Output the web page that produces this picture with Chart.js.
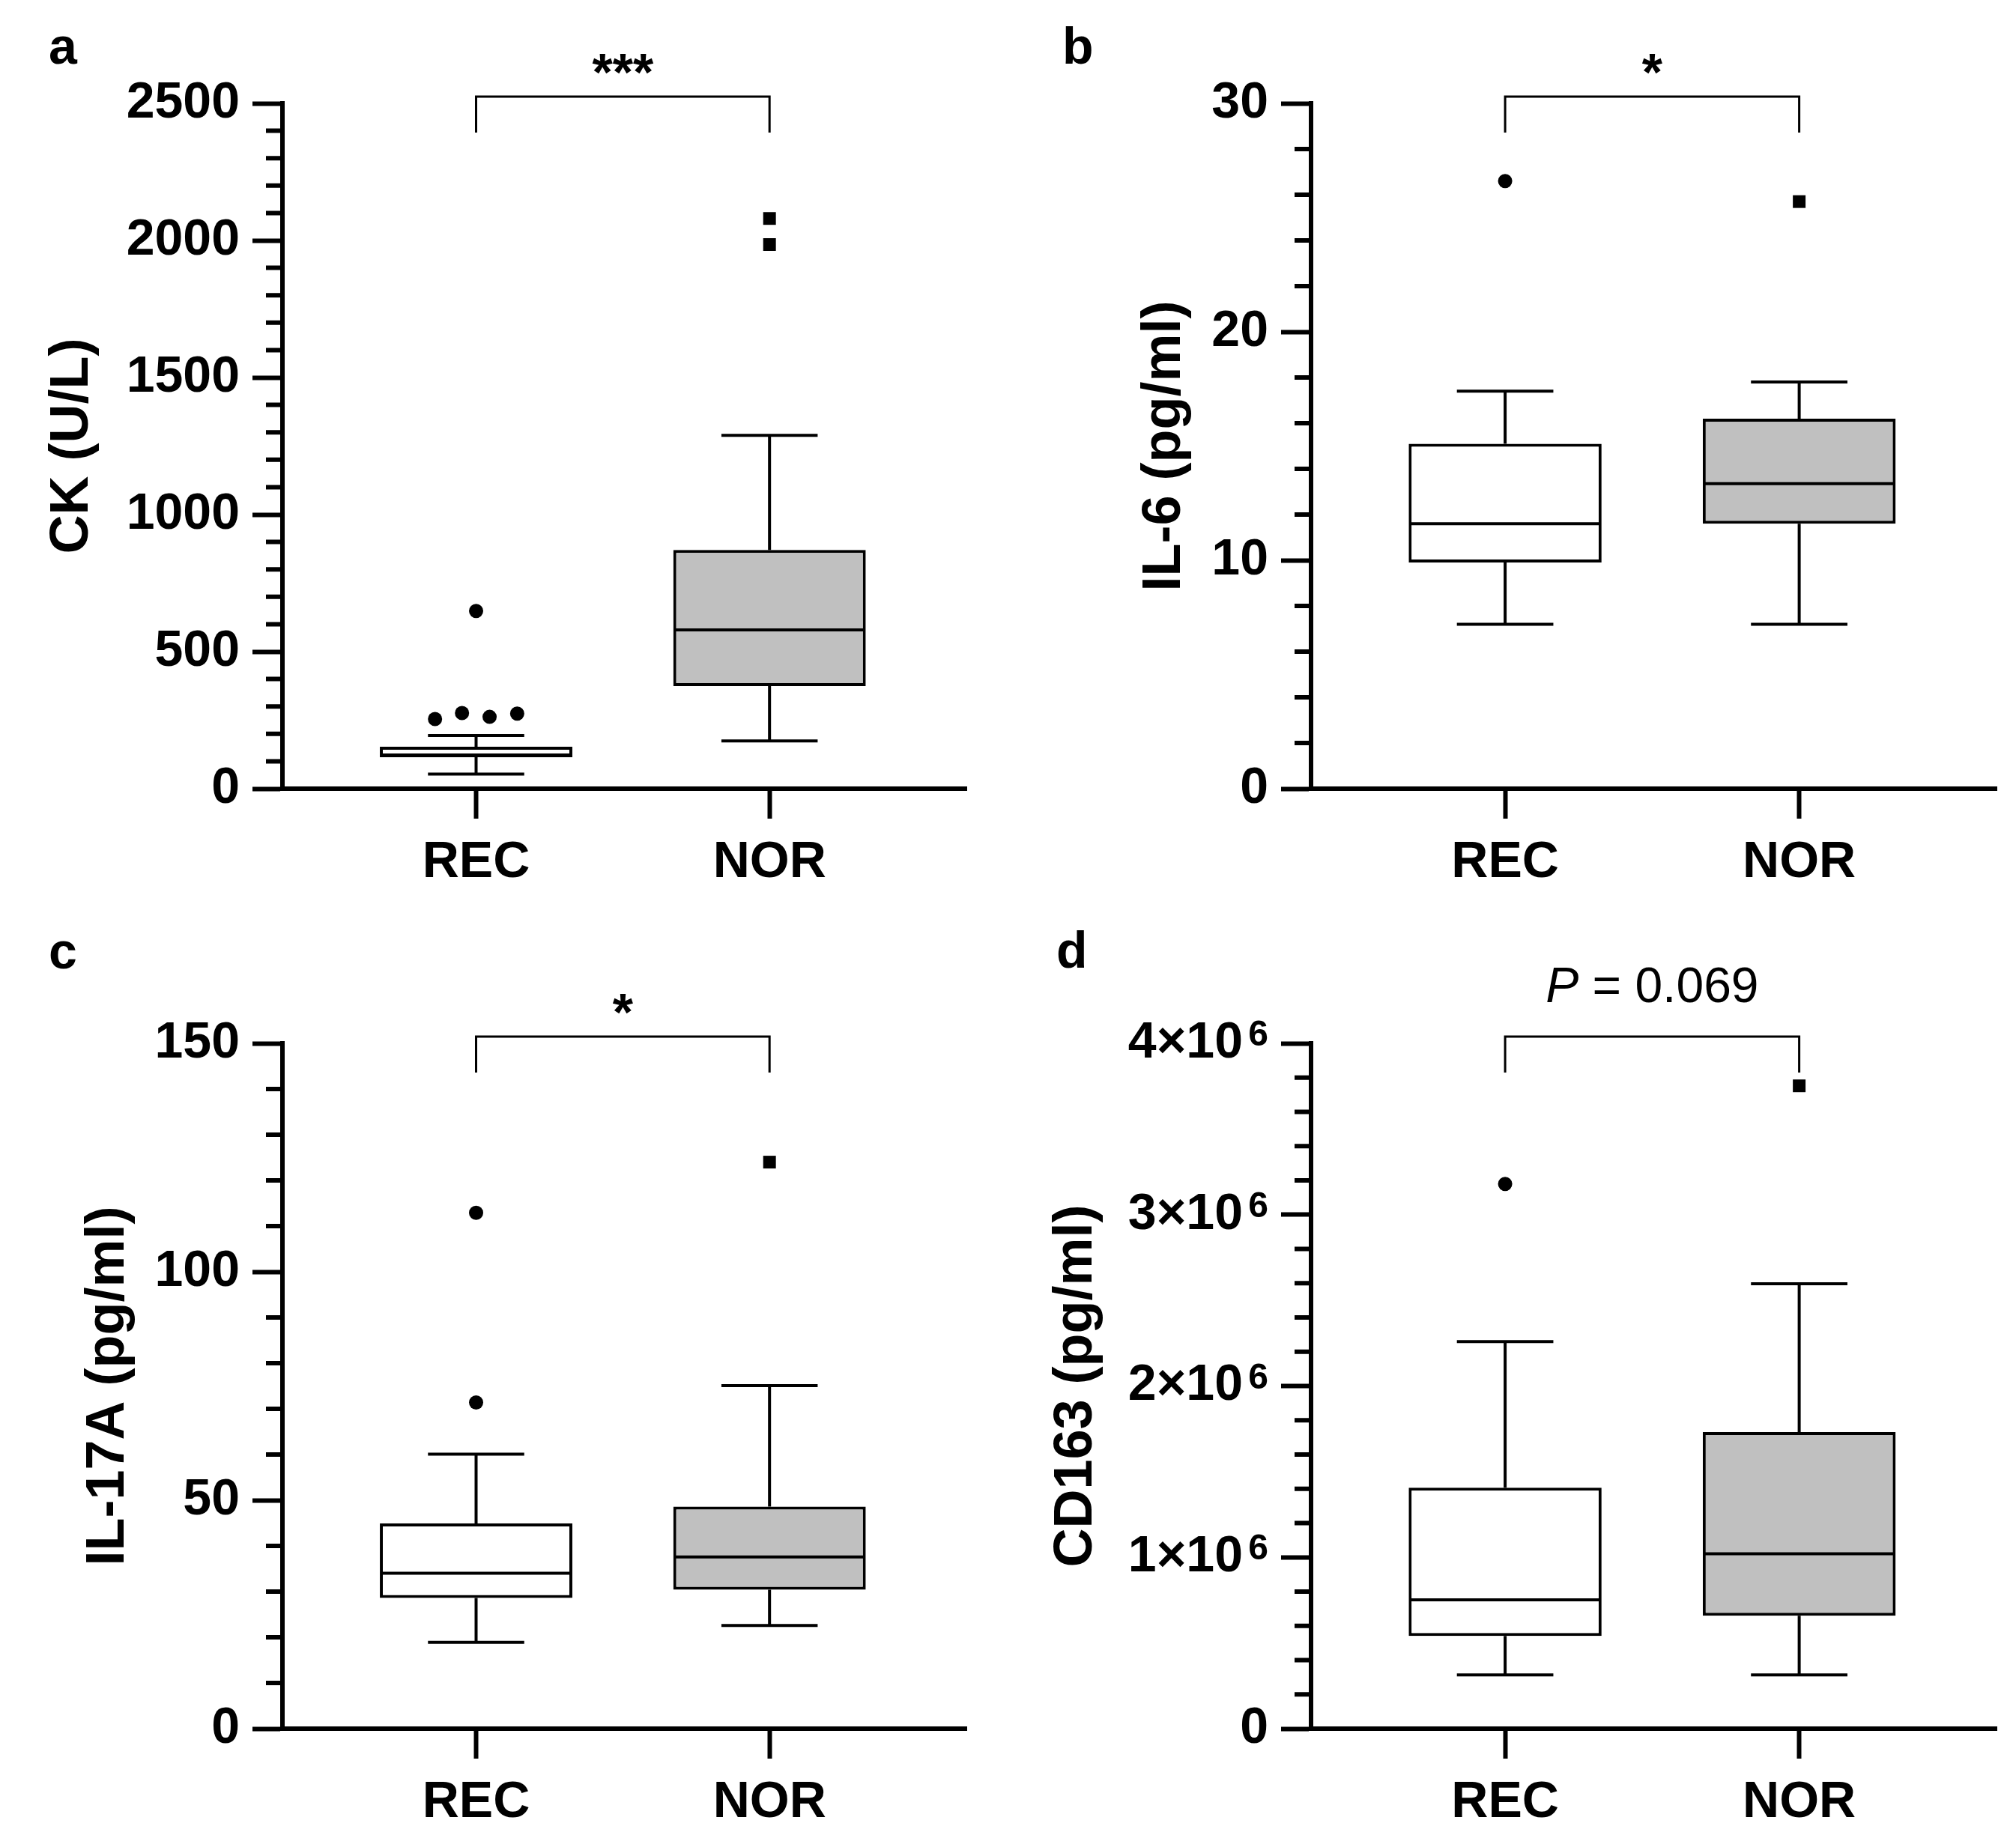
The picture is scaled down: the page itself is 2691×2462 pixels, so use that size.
<!DOCTYPE html>
<html>
<head>
<meta charset="utf-8">
<script src="https://cdn.jsdelivr.net/npm/chart.js@4.4.0/dist/chart.umd.min.js"></script>
<style>
  html, body { margin: 0; padding: 0; background: #fff; }
  #fig { position: relative; width: 2691px; height: 2462px; }
  .panel { position: absolute; }
</style>
</head>
<body>
<div id="fig">
  <div class="panel" style="left:0px;top:0px"><canvas id="chartA" width="1345" height="1231"></canvas></div>
  <div class="panel" style="left:1345px;top:0px"><canvas id="chartB" width="1346" height="1231"></canvas></div>
  <div class="panel" style="left:0px;top:1231px"><canvas id="chartC" width="1345" height="1231"></canvas></div>
  <div class="panel" style="left:1345px;top:1231px"><canvas id="chartD" width="1346" height="1231"></canvas></div>
</div>
<script>
// groups on the x axis
const groups = ['REC', 'NOR'];

// boxes are [lower whisker, Q1, median, Q3, upper whisker]
// a: CK (U/L)
const ckRec = [53, 115, 123, 153, 194];
const ckNor = [174, 374, 579, 871, 1289];
const ckOutRecY = [648, 254, 276, 262, 274];
const ckOutRecX = [1, 0.86, 0.952, 1.046, 1.14];
const ckOutNorY = [2080, 1985];
const ckTicks = [0, 500, 1000, 1500, 2000, 2500];
const ckMinor = 100;

// b: IL-6 (pg/ml)
const il6Rec = [7.2, 9.9, 11.6, 15.1, 17.4];
const il6Nor = [7.2, 11.6, 13.35, 16.2, 17.8];
const il6OutRecY = [26.6];
const il6OutNorY = [25.7];
const il6Ticks = [0, 10, 20, 30];
const il6Minor = 2;

// c: IL-17A (pg/ml)
const il17Rec = [18.9, 28.6, 34.0, 44.9, 60.1];
const il17Nor = [22.6, 30.4, 37.6, 48.6, 75.1];
const il17OutRecY = [112.9, 71.4];
const il17OutNorY = [124.0];
const il17Ticks = [0, 50, 100, 150];
const il17Minor = 10;

// d: CD163 (pg/ml)
const cdRec = [314000, 541000, 752000, 1407000, 2259000];
const cdNor = [314000, 659000, 1021000, 1731000, 2597000];
const cdOutRecY = [3179000];
const cdOutNorY = [3752000];
const cdTicks = [0, 1000000, 2000000, 3000000, 4000000];
const cdMinor = 200000;

const FONT = "'Liberation Sans', Arial, Helvetica, sans-serif";
const X_AXIS_H = 150;
const X_MIN = 0.34, X_MAX = 2.671;
const TICK_LEN = 40, TICK_PAD = 17;

function makePanel(id, cfg) {
    const canvas = document.getElementById(id);
    const W = canvas.width, H = canvas.height;
    const a = cfg.area;

    // whiskers, medians, minor ticks, bracket and labels, all placed with the chart scales
    const extras = {
        id: 'boxExtras',
        afterDatasetsDraw(chart) {
            const ctx = chart.ctx, xs = chart.scales.x, ys = chart.scales.y;
            const bars = chart.getDatasetMeta(0).data;
            ctx.save();
            ctx.strokeStyle = '#000';
            ctx.lineWidth = 4;
            [cfg.rec, cfg.nor].forEach((b, i) => {
                const cx = xs.getPixelForValue(i + 1);
                const half = bars[i].width / 2;
                const cap = half * 0.5;
                const [lo, q1, med, q3, hi] = b.map(v => ys.getPixelForValue(v));
                ctx.beginPath();
                ctx.moveTo(cx - half + 2, med); ctx.lineTo(cx + half - 2, med);
                ctx.moveTo(cx, q3); ctx.lineTo(cx, hi);
                ctx.moveTo(cx - cap, hi); ctx.lineTo(cx + cap, hi);
                ctx.moveTo(cx, q1); ctx.lineTo(cx, lo);
                ctx.moveTo(cx - cap, lo); ctx.lineTo(cx + cap, lo);
                ctx.stroke();
            });
            ctx.restore();
        },
        afterDraw(chart) {
            const ctx = chart.ctx, xs = chart.scales.x, ys = chart.scales.y;
            const axisX = chart.chartArea.left;
            const top = cfg.ticks[cfg.ticks.length - 1];
            const majorStep = cfg.ticks[1];
            ctx.save();
            // minor ticks
            ctx.strokeStyle = '#000';
            ctx.lineWidth = 6;
            ctx.beginPath();
            const n = Math.round(top / cfg.minor);
            for (let k = 1; k < n; k++) {
                const v = k * cfg.minor;
                if (Math.abs(v / majorStep - Math.round(v / majorStep)) < 1e-6) continue;
                const py = ys.getPixelForValue(v);
                ctx.moveTo(axisX - 22, py);
                ctx.lineTo(axisX, py);
            }
            ctx.stroke();

            ctx.fillStyle = '#000';
            // exponent of the tick labels (d)
            if (cfg.sup) {
                ctx.font = 'bold 48px ' + FONT;
                ctx.textAlign = 'right';
                ctx.textBaseline = 'alphabetic';
                cfg.ticks.forEach(v => {
                    if (v === 0) return;
                    ctx.fillText(cfg.sup, axisX - TICK_LEN - TICK_PAD, ys.getPixelForValue(v) + 3);
                });
            }

            // significance bracket
            const x1 = xs.getPixelForValue(1), x2 = xs.getPixelForValue(2);
            const yT = ys.top - 9, yB = ys.top + 39;
            ctx.lineWidth = 3;
            ctx.beginPath();
            ctx.moveTo(x1, yB); ctx.lineTo(x1, yT); ctx.lineTo(x2, yT); ctx.lineTo(x2, yB);
            ctx.stroke();

            ctx.textBaseline = 'alphabetic';
            const cx = (x1 + x2) / 2;
            if (cfg.pText) {
                const pFont = 'italic 66px ' + FONT;
                const rFont = '66px ' + FONT;
                ctx.font = pFont;
                const wP = ctx.measureText('P').width;
                ctx.font = rFont;
                const wR = ctx.measureText(cfg.pText).width;
                const start = cx - (wP + wR) / 2;
                ctx.textAlign = 'left';
                ctx.font = pFont;
                ctx.fillText('P', start, ys.top - 55);
                ctx.font = rFont;
                ctx.fillText(cfg.pText, start + wP, ys.top - 55);
            } else {
                ctx.font = 'bold 70px ' + FONT;
                ctx.textAlign = 'center';
                ctx.fillText(cfg.sig, cx, ys.top - 17);
            }

            // panel letter
            ctx.font = 'bold 68px ' + FONT;
            ctx.textAlign = 'left';
            ctx.fillText(cfg.letter, cfg.letterPos[0], cfg.letterPos[1]);
            ctx.restore();
        }
    };

    const outRec = cfg.outRecY.map((v, i) => ({x: cfg.outRecX ? cfg.outRecX[i] : 1, y: v}));
    const outNor = cfg.outNorY.map(v => ({x: 2, y: v}));

    return new Chart(canvas.getContext('2d'), {
        type: 'bar',
        data: {
            datasets: [{
                label: 'box',
                data: groups.map((g, i) => {
                    const b = i === 0 ? cfg.rec : cfg.nor;
                    return {x: i + 1, y: [b[1], b[3]]};
                }),
                backgroundColor: ['#ffffff', '#c0c0c0'],
                borderColor: '#000',
                borderWidth: 4,
                borderSkipped: false,
                barPercentage: 0.656,
                categoryPercentage: 1
            }, {
                type: 'scatter',
                label: 'REC outliers',
                data: outRec,
                pointStyle: 'circle',
                pointRadius: 9.5,
                backgroundColor: '#000',
                borderWidth: 0
            }, {
                type: 'scatter',
                label: 'NOR outliers',
                data: outNor,
                pointStyle: 'rect',
                pointRadius: 12,
                backgroundColor: '#000',
                borderWidth: 0
            }]
        },
        options: {
            responsive: false,
            devicePixelRatio: 1,
            animation: false,
            events: [],
            layout: {
                padding: {left: 0, top: a.top, right: W - a.right, bottom: H - a.bottom - X_AXIS_H}
            },
            plugins: {
                legend: {display: false},
                tooltip: {enabled: false}
            },
            scales: {
                x: {
                    type: 'linear',
                    min: X_MIN,
                    max: X_MAX,
                    offset: false,
                    afterBuildTicks: s => { s.ticks = groups.map((g, i) => ({value: i + 1})); },
                    afterFit: s => { s.height = X_AXIS_H; },
                    border: {color: '#000', width: 6},
                    grid: {offset: false, drawOnChartArea: false, tickLength: TICK_LEN, tickWidth: 6, tickColor: '#000'},
                    ticks: {
                        color: '#000',
                        font: {family: FONT, size: 68, weight: 'bold'},
                        padding: 18,
                        autoSkip: false,
                        maxRotation: 0,
                        callback: (v, i) => groups[i]
                    }
                },
                y: {
                    type: 'linear',
                    min: 0,
                    max: cfg.ticks[cfg.ticks.length - 1],
                    afterBuildTicks: s => { s.ticks = cfg.ticks.map(v => ({value: v})); },
                    afterFit: s => { s.width = a.left; },
                    border: {color: '#000', width: 6},
                    grid: {drawOnChartArea: false, tickLength: TICK_LEN, tickWidth: 6, tickColor: '#000'},
                    ticks: {
                        color: '#000',
                        font: {family: FONT, size: 68, weight: 'bold'},
                        padding: TICK_PAD,
                        callback: cfg.tickLabel || (v => String(v))
                    },
                    title: {
                        display: true,
                        text: cfg.title,
                        color: '#000',
                        font: {family: FONT, size: 72, weight: 'bold'},
                        padding: {top: cfg.titlePad, bottom: 0}
                    }
                }
            }
        },
        plugins: [extras]
    });
}

makePanel('chartA', {
    rec: ckRec, nor: ckNor, outRecY: ckOutRecY, outRecX: ckOutRecX, outNorY: ckOutNorY,
    ticks: ckTicks, minor: ckMinor, title: 'CK (U/L)', titlePad: 54,
    sig: '***', letter: 'a', letterPos: [65, 85],
    area: {left: 377, top: 138, right: 1290, bottom: 1053}
});
makePanel('chartB', {
    rec: il6Rec, nor: il6Nor, outRecY: il6OutRecY, outNorY: il6OutNorY,
    ticks: il6Ticks, minor: il6Minor, title: 'IL-6 (pg/ml)', titlePad: 167,
    sig: '*', letter: 'b', letterPos: [73, 85],
    area: {left: 405, top: 138, right: 1320, bottom: 1053}
});
makePanel('chartC', {
    rec: il17Rec, nor: il17Nor, outRecY: il17OutRecY, outNorY: il17OutNorY,
    ticks: il17Ticks, minor: il17Minor, title: 'IL-17A (pg/ml)', titlePad: 102,
    sig: '*', letter: 'c', letterPos: [65, 62],
    area: {left: 377, top: 162, right: 1290, bottom: 1077}
});
makePanel('chartD', {
    rec: cdRec, nor: cdNor, outRecY: cdOutRecY, outNorY: cdOutNorY,
    ticks: cdTicks, minor: cdMinor, title: 'CD163 (pg/ml)', titlePad: 49,
    pText: ' = 0.069', letter: 'd', letterPos: [65, 61],
    // the space after "10" leaves room for the exponent drawn by the plugin
    tickLabel: v => v === 0 ? '0' : (v / 1000000) + '×10\u2002',
    sup: '6',
    area: {left: 405, top: 162, right: 1320, bottom: 1077}
});
</script>
</body>
</html>
